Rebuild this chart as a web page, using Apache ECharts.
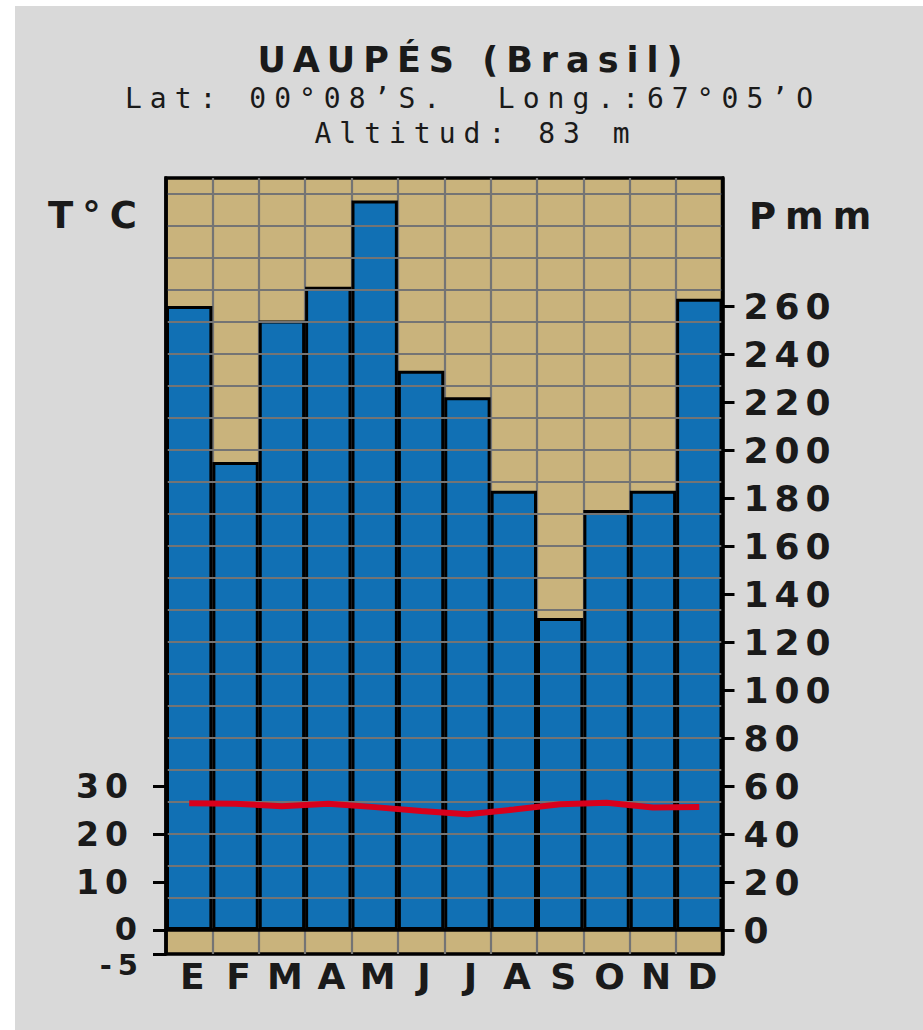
<!DOCTYPE html>
<html>
<head>
<meta charset="utf-8">
<script src="https://cdn.jsdelivr.net/npm/echarts@6/dist/echarts.min.js"></script>
<style>
  html, body { margin: 0; padding: 0; background: #ffffff; }
  #chart { position: absolute; left: 15px; top: 6px; width: 908px; height: 1024px; }
  /* the original chart uses a widely spaced bitmap font */
  #chart text { letter-spacing: 6px; white-space: pre; }
  #chart text[style*="35px"] { letter-spacing: 8px; }
  #chart text[style*="37px"] { letter-spacing: 9px; }
  #chart text[style*="Mono"] { letter-spacing: 8px; }
</style>
</head>
<body>
<div id="chart"></div>
<script>
const months = ['E', 'F', 'M', 'A', 'M', 'J', 'J', 'A', 'S', 'O', 'N', 'D'];
const precipitation = [260, 195, 254, 268, 304, 233, 222, 183, 130, 175, 183, 263];
const temperature = [26.4, 26.3, 25.8, 26.3, 25.6, 24.8, 24.1, 25.1, 26.2, 26.5, 25.5, 25.6];
const tempTicks = [-5, 0, 10, 20, 30];
const precipTicks = [0, 20, 40, 60, 80, 100, 120, 140, 160, 180, 200, 220, 240, 260];

// P = 2T ; plot runs from -10 mm (-5 °C) to 313.33 mm
const precipMin = -10;
const precipMax = 940 / 3;
const gridStep = 40 / 3;
const gridLines = [];
for (let v = gridStep; v < precipMax; v += gridStep) gridLines.push(v);

const upperTempTicks = tempTicks.filter(v => v >= 0);
const lowTempTicks = tempTicks.filter(v => v < 0);

const TAN = '#c9b37c';
const BLUE = '#1170b4';
const GRIDGRAY = '#747474';
const INK = '#1a1a1a';

const chart = echarts.init(document.getElementById('chart'), null, { renderer: 'svg' });

const labelFont = { fontFamily: 'DejaVu Sans', fontWeight: 'bold', color: INK };
const tickFont = { fontSize: 33, fontFamily: 'DejaVu Sans', fontWeight: 'bold', color: INK };

chart.setOption({
  backgroundColor: '#d9d9d9',
  animation: false,
  graphic: [
    { type: 'text', x: 459, y: 54, style: { text: 'UAUPÉS (Brasil)', font: 'bold 35px DejaVu Sans', fill: INK, textAlign: 'center', textVerticalAlign: 'middle' } },
    { type: 'text', x: 458, y: 92, style: { text: 'Lat: 00°08’S.  Long.:67°05’O', font: '28px DejaVu Sans Mono', fill: INK, textAlign: 'center', textVerticalAlign: 'middle' } },
    { type: 'text', x: 461, y: 127, style: { text: 'Altitud: 83 m', font: '28px DejaVu Sans Mono', fill: INK, textAlign: 'center', textVerticalAlign: 'middle' } },
    { type: 'text', x: 33, y: 209, style: { text: 'T°C', font: 'bold 37px DejaVu Sans', fill: INK, textAlign: 'left', textVerticalAlign: 'middle' } },
    { type: 'text', x: 734, y: 210, style: { text: 'Pmm', font: 'bold 37px DejaVu Sans', fill: INK, textAlign: 'left', textVerticalAlign: 'middle' } }
  ],
  grid: {
    left: 151,
    right: 200.5,
    top: 172,
    bottom: 76,
    show: true,
    backgroundColor: TAN,
    borderColor: '#000',
    borderWidth: 3.5
  },
  xAxis: [
    {
      type: 'category',
      data: months,
      boundaryGap: true,
      position: 'bottom',
      z: 0,
      axisLine: { show: false },
      axisTick: { show: false },
      splitLine: { show: true, interval: 0, lineStyle: { color: GRIDGRAY, width: 2.2 } },
      axisLabel: { interval: 0, fontSize: 36, margin: 22, verticalAlign: 'middle', padding: [0, 0, 0, 12], ...labelFont }
    },
    {
      type: 'category',
      data: months,
      position: 'top',
      z: 6,
      axisLine: { show: true, lineStyle: { color: '#000', width: 3.5 } },
      axisTick: { show: false },
      axisLabel: { show: false },
      splitLine: { show: false }
    }
  ],
  yAxis: [
    {
      type: 'value',
      position: 'left',
      min: precipMin / 2,
      max: precipMax / 2,
      z: 6,
      axisLine: { show: true, onZero: false, lineStyle: { color: '#000', width: 3.5 } },
      axisTick: { show: true, inside: false, length: 13, customValues: upperTempTicks, lineStyle: { color: '#000', width: 3 } },
      splitLine: { show: false },
      axisLabel: {
        customValues: upperTempTicks,
        margin: 23,
        ...tickFont,
        formatter: v => v === 0 ? '{base|0}' : '{pad|' + v + '}',
        rich: {
          base: { ...tickFont, fontSize: 32, padding: [0, 0, 3, 0] },
          pad: { ...tickFont, padding: [0, 9, 0, 0] }
        }
      }
    },
    {
      type: 'value',
      position: 'right',
      min: precipMin,
      max: precipMax,
      z: 6,
      axisLine: { show: true, onZero: false, lineStyle: { color: '#000', width: 3.5 } },
      axisTick: { show: true, inside: false, length: 12, customValues: precipTicks, lineStyle: { color: '#000', width: 3 } },
      splitLine: { show: false },
      axisLabel: { customValues: precipTicks, margin: 21, fontSize: 36, ...labelFont }
    },
    {
      type: 'value',
      position: 'right',
      min: precipMin,
      max: precipMax,
      z: 3,
      axisLine: { show: false },
      axisTick: { show: false, customValues: gridLines },
      axisLabel: { show: false },
      splitLine: { show: true, lineStyle: { color: GRIDGRAY, width: 2.2 } }
    },
    {
      // the -5 °C label sits a little below its tick, as in the original
      type: 'value',
      position: 'left',
      min: precipMin / 2,
      max: precipMax / 2,
      z: 6,
      axisLine: { show: false },
      axisTick: { show: true, inside: false, length: 13, customValues: lowTempTicks, lineStyle: { color: '#000', width: 3 } },
      splitLine: { show: false },
      axisLabel: {
        customValues: lowTempTicks,
        showMinLabel: true,
        margin: 22,
        formatter: v => '{low|' + v + '}',
        rich: { low: { ...tickFont, fontSize: 29, padding: [22, 0, 0, 0] } }
      }
    }
  ],
  series: [
    {
      name: 'Pmm',
      type: 'bar',
      yAxisIndex: 1,
      data: precipitation,
      barCategoryGap: '0%',
      z: 2,
      itemStyle: { color: BLUE, borderColor: '#000', borderWidth: 3 }
    },
    {
      name: 'T°C',
      type: 'line',
      yAxisIndex: 0,
      data: temperature,
      symbol: 'none',
      z: 10,
      lineStyle: { color: '#d8001c', width: 6 }
    }
  ]
});
</script>
</body>
</html>
